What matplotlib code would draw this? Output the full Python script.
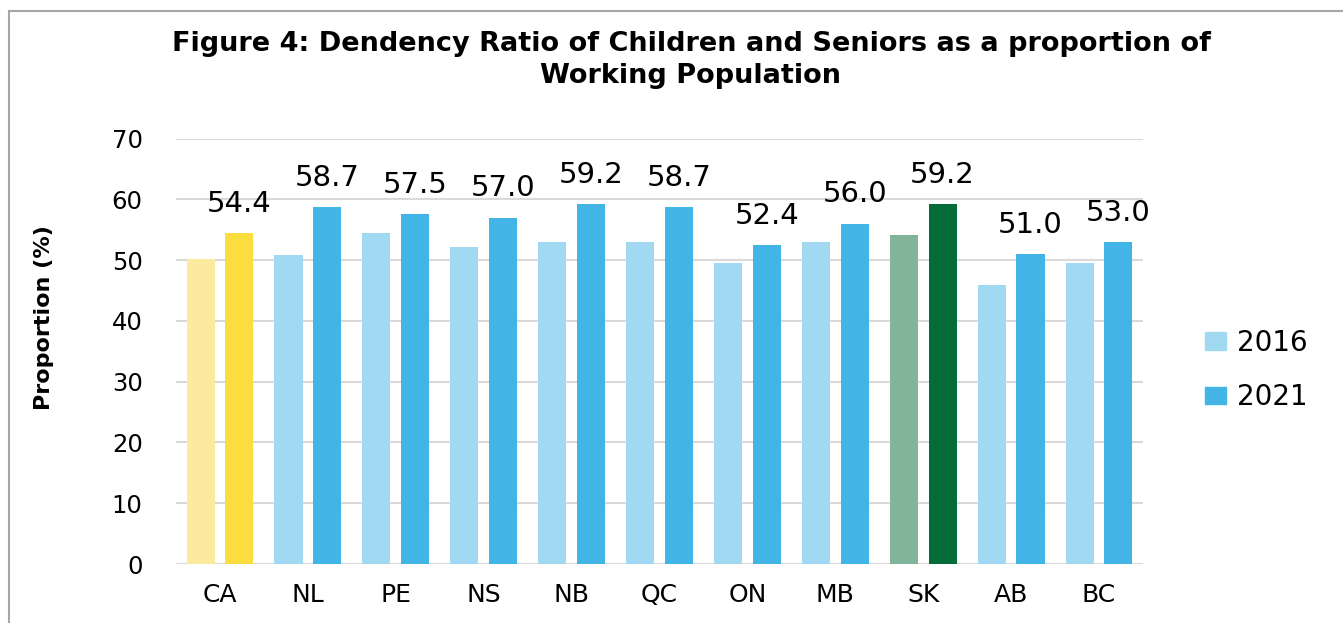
import numpy as np
import matplotlib.pyplot as plt
from matplotlib.patches import Patch, Rectangle

# Data
regions = ['CA', 'NL', 'PE', 'NS', 'NB', 'QC', 'ON', 'MB', 'SK', 'AB', 'BC']
ratio_2016 = [50.1, 50.9, 54.4, 52.2, 53.0, 53.0, 49.5, 53.0, 54.1, 45.9, 49.5]
ratio_2021 = [54.4, 58.7, 57.5, 57.0, 59.2, 58.7, 52.4, 56.0, 59.2, 51.0, 53.0]
years = ['2016', '2021']

# Colours: Canada highlighted yellow, SK green, other provinces blue
light_blue, blue = '#A2D9F2', '#42B4E6'
special = {'CA': ('#FCEB9F', '#FADD3F'), 'SK': ('#82B49A', '#056B39')}
col_2016 = [special.get(r, (light_blue, blue))[0] for r in regions]
col_2021 = [special.get(r, (light_blue, blue))[1] for r in regions]

fig = plt.figure(figsize=(13.43, 6.23), dpi=100)
ax = fig.add_axes([176 / 1343, 1 - 564 / 623, 967 / 1343, 425.5 / 623])

x = np.arange(len(regions))
w = 0.32
ax.bar(x - 0.22, ratio_2016, w, color=col_2016, zorder=2)
bars = ax.bar(x + 0.22, ratio_2021, w, color=col_2021, zorder=2)

for b, v in zip(bars, ratio_2021):
    ax.annotate(f'{v:.1f}', (b.get_x() + b.get_width() / 2, v),
                xytext=(0, 11), textcoords='offset points',
                ha='center', va='bottom', fontsize=21, family='DejaVu Sans')

ax.set_xlim(-0.5, len(regions) - 0.5)
ax.set_ylim(0, 70)
ax.set_yticks(range(0, 71, 10))
ax.set_xticks(x)
ax.set_xticklabels(regions, fontsize=18)
ax.tick_params(axis='x', length=0, pad=14)
ax.tick_params(axis='y', length=0, labelsize=17.5, pad=24)
ax.yaxis.grid(True, color='#D9D9D9', linewidth=1.5, zorder=0)
for s in ax.spines.values():
    s.set_visible(False)

fig.text(44 / 1343, 1 - 318 / 623, 'Proportion (%)', rotation=90,
         ha='center', va='center', fontsize=16, fontweight='bold',
         family='DejaVu Sans')

fig.text(691 / 1343, 1 - 60 / 623,
         'Figure 4: Dendency Ratio of Children and Seniors as a proportion of\nWorking Population',
         ha='center', va='center', fontsize=19.5, fontweight='bold',
         family='DejaVu Sans', linespacing=1.3)

handles = [Patch(color=light_blue), Patch(color=blue)]
fig.legend(handles, years, loc='center left',
           bbox_to_anchor=(1180 / 1343, 1 - 370 / 623), frameon=False,
           fontsize=20, handlelength=0.75, handleheight=0.6,
           labelspacing=0.95, handletextpad=0.4)

# outer chart frame
fig.patches.append(Rectangle((9 / 1343, -0.05), 1.2, 1.05 - 11 / 623,
                             transform=fig.transFigure, fill=False,
                             edgecolor='#A6A6A6', linewidth=1.5))

fig.savefig('out.png', dpi=100)
